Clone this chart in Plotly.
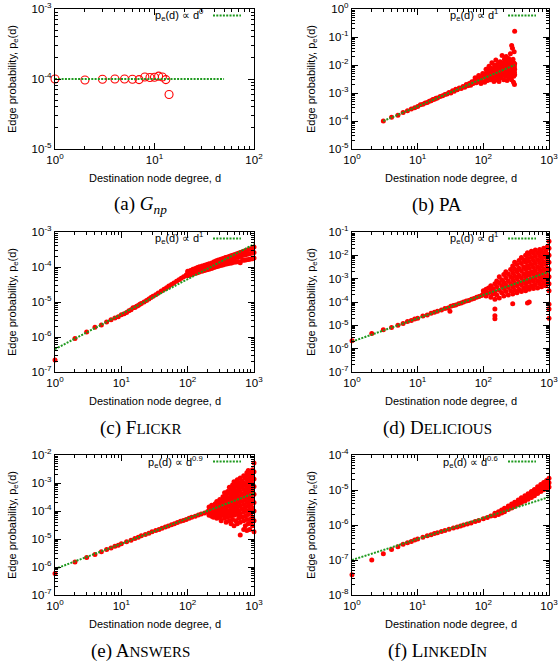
import plotly.graph_objects as go
from plotly.subplots import make_subplots

W, H = 559, 665

# ---------------- data ----------------
# (a) G_np
a_deg = [1, 2, 3, 4, 5, 6, 7, 8, 9, 10, 11, 12, 13, 14]
a_prob = [1.0e-4, 0.97e-4, 0.99e-4, 1.0e-4, 1.0e-4, 0.99e-4, 0.98e-4, 1.07e-4,
          1.05e-4, 1.06e-4, 1.1e-4, 1.07e-4, 0.98e-4, 0.6e-4]
a_fit_deg = [1, 50]
a_fit_prob = [1e-4, 1e-4]

# (b) PA
b_deg = [3, 4, 5, 6, 7, 8, 9, 10, 11, 12, 13, 14, 15, 16, 17, 18, 19, 20,
         22, 24, 26, 28, 30, 32, 34, 36, 38, 40,
         43, 46, 49, 52, 55, 58, 61, 64, 67, 70,
         74, 78, 82, 86, 90, 95, 100, 75, 85, 92, 98]
b_prob = [1.0e-4, 1.35e-4, 1.6e-4, 2.0e-4, 2.3e-4, 2.7e-4, 3.0e-4, 3.3e-4, 3.8e-4, 4.0e-4,
          4.4e-4, 4.6e-4, 5.1e-4, 5.3e-4, 5.8e-4, 6.0e-4, 6.5e-4, 6.6e-4,
          7.5e-4, 8.0e-4, 8.9e-4, 9.2e-4, 1.05e-3, 1.0e-3, 1.2e-3, 1.15e-3, 1.35e-3, 1.3e-3,
          1.5e-3, 1.45e-3, 1.7e-3, 1.6e-3, 2.0e-3, 1.8e-3, 2.2e-3, 1.9e-3, 2.5e-3, 2.2e-3,
          2.8e-3, 2.3e-3, 3.1e-3, 2.6e-3, 3.4e-3, 2.7e-3, 3.9e-3, 3.5e-3, 4.2e-3, 2.2e-3, 5.0e-3]
b_cloud = {
    105: [2.4e-3, 4.0e-3], 108: [5.0e-3], 110: [3.2e-3, 7.0e-3], 112: [4.2e-3], 115: [6.5e-3, 2.8e-3],
    118: [2.9e-3, 5.0e-3], 120: [3.8e-3], 122: [5.5e-3, 9.0e-3], 125: [4.5e-3], 128: [8.0e-3, 3.0e-3],
    130: [3.3e-3, 5.8e-3], 133: [6.0e-3], 135: [1.2e-2, 4.2e-3], 138: [4.8e-3], 140: [3.6e-3, 7.0e-3],
    143: [7.5e-3], 145: [5.2e-3, 2.6e-3], 148: [1.0e-2], 150: [4.0e-3, 6.5e-3], 153: [6.8e-3],
    155: [1.5e-2, 3.4e-3], 158: [5.6e-3], 160: [3.0e-3, 8.0e-3], 163: [8.5e-3], 165: [4.4e-3, 6.2e-3],
    168: [1.1e-2], 170: [6.2e-3, 3.8e-3], 173: [2.6e-3], 175: [9.0e-3, 5.2e-3], 178: [5.0e-3],
    180: [1.3e-2, 7.5e-3], 183: [7.0e-3], 185: [3.5e-3, 5.5e-3], 188: [1.05e-2], 190: [5.8e-3, 8.5e-3],
    193: [2.2e-2], 195: [8.0e-3, 4.6e-3], 198: [4.2e-3], 200: [1.2e-2, 6.8e-3], 203: [6.5e-3],
    205: [3.0e-3, 1.0e-2], 208: [9.5e-3], 210: [1.6e-2, 5.0e-3], 213: [5.3e-3], 215: [7.8e-3, 1.3e-2],
    218: [1.1e-2], 220: [4.0e-3, 7.0e-3], 223: [2.0e-2], 225: [6.0e-3, 9.5e-3], 228: [9.0e-3],
    230: [2.8e-3, 5.5e-3], 233: [1.3e-2], 235: [7.2e-3, 4.2e-3], 238: [5.0e-3], 240: [1.0e-2, 6.5e-3],
    243: [1.7e-2], 245: [3.6e-3, 8.8e-3], 248: [8.2e-3], 250: [6.0e-3, 1.15e-2], 253: [1.2e-2],
    255: [4.5e-3, 7.2e-3], 258: [2.5e-2], 260: [9.0e-3, 5.2e-3], 263: [6.8e-3], 265: [1.4e-2, 3.8e-3],
    268: [3.0e-3], 270: [5.0e-2, 8.0e-3], 272: [1.1e-2], 275: [7.5e-3, 5.0e-3], 278: [4.0e-2],
    280: [5.5e-3, 1.0e-2], 283: [1.6e-2], 285: [9.0e-3, 6.0e-3], 288: [2.4e-3], 290: [1.2e-2, 4.0e-3],
    292: [6.5e-3], 295: [3.0e-2, 9.5e-3], 297: [8.5e-3], 298: [2.0e-3, 5.5e-3],
    300: [1.6e-1, 4.5e-3, 1.1e-2, 7.0e-3],
}
b_fit_deg = [3, 300]
b_fit_prob = [1e-4, 1e-2]

# (c) FLICKR
c_deg = [1, 2, 3, 4, 5, 6, 7, 8, 9, 10, 11, 12, 13, 14, 15, 16, 17, 18, 19, 20,
         22, 24, 26, 28, 30, 33, 36, 40, 44, 48, 52, 57, 62, 68, 74, 80, 87, 95]
c_prob = [2.2e-7, 9.0e-7, 1.4e-6, 1.9e-6, 2.2e-6, 2.7e-6, 3.1e-6, 3.5e-6, 3.8e-6, 4.3e-6,
          4.6e-6, 5.0e-6, 5.6e-6, 6.0e-6, 6.8e-6, 7.0e-6, 7.5e-6, 8.0e-6, 8.6e-6, 9.0e-6,
          1.0e-5, 1.1e-5, 1.22e-5, 1.35e-5, 1.45e-5, 1.62e-5, 1.8e-5, 2.05e-5, 2.3e-5, 2.55e-5,
          2.85e-5, 3.15e-5, 3.5e-5, 3.9e-5, 4.3e-5, 4.8e-5, 5.3e-5, 5.9e-5]
c_band_deg = [100, 110, 120, 130, 140, 150, 165, 180, 195, 210, 230, 250, 270, 290, 315, 340,
              370, 400, 430, 460, 500, 540, 580, 620, 670, 720, 770, 830, 890, 950, 1000]
c_band_mid = [6.5e-5, 6.9e-5, 7.4e-5, 7.8e-5, 8.2e-5, 8.6e-5, 9.1e-5, 9.6e-5, 1.0e-4, 1.04e-4,
              1.1e-4, 1.18e-4, 1.25e-4, 1.31e-4, 1.38e-4, 1.44e-4, 1.52e-4, 1.58e-4, 1.64e-4,
              1.71e-4, 1.8e-4, 1.87e-4, 1.94e-4, 2.01e-4, 2.12e-4, 2.2e-4, 2.28e-4, 2.37e-4,
              2.45e-4, 2.52e-4, 2.6e-4]
c_band_hi = [7.5e-5, 8.0e-5, 8.6e-5, 9.1e-5, 9.6e-5, 1.01e-4, 1.07e-4, 1.13e-4, 1.18e-4, 1.23e-4,
             1.31e-4, 1.41e-4, 1.5e-4, 1.58e-4, 1.67e-4, 1.75e-4, 1.86e-4, 1.94e-4, 2.03e-4,
             2.13e-4, 2.25e-4, 2.36e-4, 2.47e-4, 2.58e-4, 2.74e-4, 2.88e-4, 3.0e-4, 3.15e-4,
             3.3e-4, 3.45e-4, 3.7e-4]
c_band_lo = [5.6e-5, 5.9e-5, 6.3e-5, 6.6e-5, 6.9e-5, 7.2e-5, 7.6e-5, 8.0e-5, 8.3e-5, 8.6e-5,
             9.0e-5, 9.6e-5, 1.01e-4, 1.05e-4, 1.1e-4, 1.14e-4, 1.19e-4, 1.23e-4, 1.27e-4,
             1.31e-4, 1.36e-4, 1.4e-4, 1.44e-4, 1.32e-4, 1.55e-4, 1.57e-4, 1.6e-4, 1.64e-4,
             1.68e-4, 1.72e-4, 1.8e-4]
c_fit_deg = [1, 1000]
c_fit_prob = [4.5e-7, 4.5e-4]

# (d) DELICIOUS
d_deg = [1, 2, 3, 4, 5, 6, 7, 8, 9, 10, 12, 14, 16, 18, 20, 23, 26, 29, 31, 32, 35, 38,
         42, 46, 50, 55, 60, 66, 72, 79, 86, 94]
d_prob = [2.2e-6, 4.5e-6, 6.5e-6, 8.0e-6, 1.0e-5, 1.2e-5, 1.45e-5, 1.6e-5, 1.85e-5, 2.0e-5,
          2.5e-5, 2.8e-5, 3.3e-5, 3.6e-5, 4.0e-5, 4.5e-5, 5.3e-5, 5.6e-5, 4.0e-5, 6.5e-5,
          7.0e-5, 7.5e-5, 8.5e-5, 9.0e-5, 1.0e-4, 1.1e-4, 1.15e-4, 1.3e-4, 1.4e-4, 1.6e-4,
          1.7e-4, 1.9e-4]
d_cloud = {
    100: [2.2e-4, 3.0e-4], 110: [1.8e-4, 2.6e-4, 3.5e-4], 120: [2.4e-4, 4.0e-4],
    130: [1.6e-4, 3.0e-4, 5.0e-4], 140: [2.2e-4, 3.8e-4],
    150: [1.3e-4, 2.8e-4, 6.0e-4, 5.0e-5, 2.6e-5, 1.9e-5],
    160: [2.0e-4, 4.5e-4, 8.0e-4], 175: [1.5e-4, 3.2e-4, 6.5e-4, 1.2e-3],
    190: [2.5e-4, 5.0e-4, 9.0e-4], 205: [1.8e-4, 3.8e-4, 7.0e-4, 1.5e-3],
    220: [2.8e-4, 5.5e-4, 1.1e-3, 2.0e-3], 240: [2.0e-4, 4.2e-4, 8.0e-4, 1.6e-3],
    260: [3.0e-4, 6.0e-4, 1.2e-3, 2.5e-3], 280: [2.2e-4, 8.5e-5, 4.5e-4, 9.0e-4, 1.8e-3, 3.5e-3],
    300: [3.2e-4, 6.5e-4, 1.3e-3, 2.6e-3, 5.0e-3], 325: [2.5e-4, 5.0e-4, 1.0e-3, 2.0e-3, 4.0e-3],
    350: [3.5e-4, 7.0e-4, 1.4e-3, 2.8e-3, 6.0e-3],
    380: [2.8e-4, 5.5e-4, 1.1e-3, 2.2e-3, 4.5e-3, 8.0e-3],
    410: [4.0e-4, 8.0e-4, 1.6e-3, 3.2e-3, 6.5e-3],
    440: [3.0e-4, 6.0e-4, 1.2e-3, 2.5e-3, 5.0e-3, 1.0e-2],
    470: [9.0e-5, 4.5e-4, 9.0e-4, 1.8e-3, 3.6e-3, 7.5e-3, 1.3e-2],
    500: [1.0e-4, 3.5e-4, 7.0e-4, 1.4e-3, 2.8e-3, 5.5e-3, 1.1e-2],
    540: [5.0e-4, 1.0e-3, 2.0e-3, 4.0e-3, 8.0e-3, 1.5e-2],
    580: [3.8e-4, 7.5e-4, 1.5e-3, 3.0e-3, 6.0e-3, 1.2e-2],
    620: [5.5e-4, 1.1e-3, 2.2e-3, 4.5e-3, 9.0e-3, 1.7e-2],
    670: [4.0e-4, 8.0e-4, 1.6e-3, 3.2e-3, 6.5e-3, 1.3e-2],
    720: [6.0e-4, 1.2e-3, 2.4e-3, 4.8e-3, 9.5e-3, 1.8e-2],
    770: [4.5e-4, 9.0e-4, 1.8e-3, 3.6e-3, 7.0e-3, 1.4e-2],
    830: [6.5e-4, 1.3e-3, 2.6e-3, 5.2e-3, 1.0e-2, 2.0e-2],
    890: [5.0e-4, 1.0e-3, 2.0e-3, 4.0e-3, 8.0e-3, 1.5e-2],
    950: [7.0e-4, 1.4e-3, 2.8e-3, 5.5e-3, 1.1e-2, 2.4e-2],
    1000: [2.0e-5, 5.0e-5, 8.0e-5, 3.0e-4, 6.0e-4, 1.2e-3, 2.5e-3, 5.0e-3, 1.0e-2, 2.0e-2, 4.0e-2],
}
d_fit_deg = [1, 1000]
d_fit_prob = [2e-6, 2e-3]

# (e) ANSWERS
e_deg = [1, 2, 3, 4, 5, 6, 7, 8, 9, 10, 12, 14, 16, 18, 20, 23, 26, 29, 33, 37, 41, 46, 51,
         57, 63, 70, 78, 86, 95, 105, 115, 130, 145, 160, 180, 200]
e_prob = [5.8e-7, 1.5e-6, 2.2e-6, 2.8e-6, 3.5e-6, 4.2e-6, 4.8e-6, 5.5e-6, 6.0e-6, 6.8e-6,
          8.0e-6, 9.0e-6, 1.05e-5, 1.15e-5, 1.3e-5, 1.45e-5, 1.6e-5, 1.8e-5, 2.0e-5, 2.2e-5,
          2.4e-5, 2.7e-5, 2.9e-5, 3.2e-5, 3.5e-5, 3.9e-5, 4.3e-5, 4.6e-5, 5.0e-5, 5.5e-5,
          6.0e-5, 6.5e-5, 7.2e-5, 7.8e-5, 8.5e-5, 9.5e-5]
e_cloud = {
    210: [7e-5, 1.0e-4, 1.4e-4], 220: [8.5e-5, 1.2e-4], 230: [6.5e-5, 1.05e-4, 1.6e-4],
    245: [9e-5, 1.3e-4, 6e-5], 260: [7.5e-5, 1.15e-4, 1.8e-4], 275: [5.5e-5, 9.5e-5, 1.4e-4, 2.2e-4],
    290: [8e-5, 1.25e-4, 2.0e-4], 305: [6e-5, 1.0e-4, 1.6e-4, 2.6e-4],
    320: [4.5e-5, 8.5e-5, 1.4e-4, 2.3e-4], 340: [7e-5, 1.15e-4, 1.9e-4, 3.2e-4],
    360: [5.5e-5, 9.5e-5, 1.6e-4, 2.7e-4, 4.5e-4], 380: [4e-5, 7.5e-5, 1.3e-4, 2.2e-4, 3.8e-4],
    400: [6e-5, 1.05e-4, 1.8e-4, 3.0e-4, 5.0e-4], 425: [4.5e-5, 8.5e-5, 1.5e-4, 2.5e-4, 4.2e-4, 7e-4],
    450: [3.5e-5, 6.5e-5, 1.15e-4, 2.0e-4, 3.4e-4, 5.8e-4],
    475: [5e-5, 9e-5, 1.6e-4, 2.8e-4, 4.8e-4, 8.5e-4],
    500: [3e-5, 7e-5, 1.25e-4, 2.2e-4, 3.8e-4, 6.5e-4, 1.1e-3],
    530: [4.5e-5, 1.0e-4, 1.8e-4, 3.1e-4, 5.3e-4, 9e-4],
    560: [3.5e-5, 7.5e-5, 1.4e-4, 2.5e-4, 4.4e-4, 7.5e-4, 1.3e-3],
    590: [5.5e-5, 1.05e-4, 2.0e-4, 3.5e-4, 6.0e-4, 1.05e-3],
    620: [1.4e-5, 4e-5, 8e-5, 1.5e-4, 2.8e-4, 5.0e-4, 8.5e-4, 1.5e-3],
    660: [6e-5, 1.15e-4, 2.2e-4, 4.0e-4, 7.0e-4, 1.2e-3],
    700: [2.2e-5, 4.5e-5, 9e-5, 1.7e-4, 3.2e-4, 5.8e-4, 1.0e-3, 1.8e-3],
    740: [3e-5, 6.5e-5, 1.3e-4, 2.5e-4, 4.6e-4, 8.5e-4, 1.5e-3],
    780: [2e-5, 5e-5, 1.0e-4, 2.0e-4, 3.8e-4, 7e-4, 1.3e-3, 2.3e-3],
    820: [3.5e-5, 7.5e-5, 1.5e-4, 3.0e-4, 5.5e-4, 1.0e-3, 1.9e-3, 2.8e-3],
    860: [2.2e-5, 5e-5, 1.1e-4, 2.3e-4, 4.3e-4, 8e-4, 1.5e-3, 2.5e-3],
    900: [4e-5, 8.5e-5, 1.7e-4, 3.3e-4, 6.2e-4, 1.15e-3, 2.0e-3],
    950: [3e-5, 6e-5, 1.3e-4, 2.6e-4, 5.0e-4, 9.5e-4, 1.7e-3, 3e-3],
    1000: [1.8e-5, 4.5e-5, 1.0e-4, 2.0e-4, 4.0e-4, 7.5e-4, 1.4e-3, 2.5e-3, 5.2e-3],
}
e_fit_deg = [1, 1000]
e_fit_prob = [8.5e-7, 4.3e-4]

# (f) LINKEDIN
f_deg = [1, 2, 3, 4, 5, 6, 7, 8, 9, 10, 12, 14, 16, 18, 20, 23, 26, 30, 35, 40, 45, 50,
         57, 65, 75, 85, 100, 115, 130]
f_prob = [3.8e-8, 1.0e-7, 1.5e-7, 2.0e-7, 2.4e-7, 2.8e-7, 3.1e-7, 3.4e-7, 3.7e-7, 4.0e-7,
          4.5e-7, 4.9e-7, 5.3e-7, 5.7e-7, 6.0e-7, 6.5e-7, 7.0e-7, 7.5e-7, 8.2e-7, 8.8e-7,
          9.4e-7, 1.0e-6, 1.07e-6, 1.15e-6, 1.25e-6, 1.35e-6, 1.5e-6, 1.65e-6, 1.8e-6]
f_band_deg = [150, 170, 190, 210, 240, 270, 300, 340, 380, 430, 480, 540, 600, 670, 750, 830,
              920, 1000]
f_band_mid = [2.0e-6, 2.2e-6, 2.45e-6, 2.7e-6, 3.1e-6, 3.5e-6, 3.9e-6, 4.5e-6, 5.1e-6, 5.8e-6,
              6.5e-6, 7.5e-6, 8.5e-6, 1.0e-5, 1.15e-5, 1.3e-5, 1.45e-5, 1.6e-5]
f_band_hi = [2.15e-6, 2.4e-6, 2.7e-6, 3.0e-6, 3.5e-6, 4.0e-6, 4.5e-6, 5.2e-6, 6.0e-6, 6.9e-6,
             7.8e-6, 9.1e-6, 1.04e-5, 1.24e-5, 1.44e-5, 1.65e-5, 1.88e-5, 2.15e-5]
f_band_lo = [1.85e-6, 2.0e-6, 2.2e-6, 2.4e-6, 2.75e-6, 3.05e-6, 3.35e-6, 3.85e-6, 4.3e-6,
             4.85e-6, 5.4e-6, 6.1e-6, 6.9e-6, 8.0e-6, 9.1e-6, 1.02e-5, 1.12e-5, 1.22e-5]
f_fit_deg = [1, 1000]
f_fit_prob = [1e-7, 6.3e-6]

# tick labels
x_ticks_a = [1, 10, 100]
x_labels_a = ["10<sup>0</sup>", "10<sup>1</sup>", "10<sup>2</sup>"]
x_ticks = [1, 10, 100, 1000]
x_labels = ["10<sup>0</sup>", "10<sup>1</sup>", "10<sup>2</sup>", "10<sup>3</sup>"]
y_ticks_a = [1e-5, 1e-4, 1e-3]
y_labels_a = ["10<sup>-5</sup>", "10<sup>-4</sup>", "10<sup>-3</sup>"]
y_ticks_b = [1e-5, 1e-4, 1e-3, 1e-2, 1e-1, 1e0]
y_labels_b = ["10<sup>-5</sup>", "10<sup>-4</sup>", "10<sup>-3</sup>", "10<sup>-2</sup>",
              "10<sup>-1</sup>", "10<sup>0</sup>"]
y_ticks_c = [1e-7, 1e-6, 1e-5, 1e-4, 1e-3]
y_labels_c = ["10<sup>-7</sup>", "10<sup>-6</sup>", "10<sup>-5</sup>", "10<sup>-4</sup>",
              "10<sup>-3</sup>"]
y_ticks_d = [1e-7, 1e-6, 1e-5, 1e-4, 1e-3, 1e-2, 1e-1]
y_labels_d = ["10<sup>-7</sup>", "10<sup>-6</sup>", "10<sup>-5</sup>", "10<sup>-4</sup>",
              "10<sup>-3</sup>", "10<sup>-2</sup>", "10<sup>-1</sup>"]
y_ticks_e = [1e-7, 1e-6, 1e-5, 1e-4, 1e-3, 1e-2]
y_labels_e = ["10<sup>-7</sup>", "10<sup>-6</sup>", "10<sup>-5</sup>", "10<sup>-4</sup>",
              "10<sup>-3</sup>", "10<sup>-2</sup>"]
y_ticks_f = [1e-8, 1e-7, 1e-6, 1e-5, 1e-4]
y_labels_f = ["10<sup>-8</sup>", "10<sup>-7</sup>", "10<sup>-6</sup>", "10<sup>-5</sup>",
              "10<sup>-4</sup>"]

legend_labels = ["p<sub>e</sub>(d) \u221d d<sup>0</sup>", "p<sub>e</sub>(d) \u221d d<sup>1</sup>",
                 "p<sub>e</sub>(d) \u221d d<sup>1</sup>", "p<sub>e</sub>(d) \u221d d<sup>1</sup>",
                 "p<sub>e</sub>(d) \u221d d<sup>0.9</sup>", "p<sub>e</sub>(d) \u221d d<sup>0.6</sup>"]
SC = "<span style='font-size:15px'>%s</span>"
captions = ["(a) <i>G</i><sub><i>np</i></sub>",
            "(b) PA",
            "(c) F" + SC % "LICKR",
            "(d) D" + SC % "ELICIOUS",
            "(e) A" + SC % "NSWERS",
            "(f) L" + SC % "INKED" + "I" + SC % "N"]
x_title = "Destination node degree, d"
y_title = "Edge probability, p<sub>e</sub>(d)"

# ---------------- figure ----------------
RED = "#ff0000"
GREEN = "#1f9a1f"
SANS = "Liberation Sans, Arial, sans-serif"
SERIF = "Liberation Serif, Times New Roman, serif"


def flatten(cloud):
    xs, ys = [], []
    for k, vals in cloud.items():
        for v in vals:
            xs.append(k)
            ys.append(v)
    return xs, ys


fig = make_subplots(rows=3, cols=2)

col_px = {1: (55, 254), 2: (352, 549)}
row_px = {1: (9, 149), 2: (232, 372), 3: (455, 595)}


def fx(px):
    return px / W


def fy(py):
    return 1 - py / H


dot_style = dict(color=RED, size=5, line=dict(width=0))


def add_dots(xs, ys, r, c):
    fig.add_trace(go.Scatter(x=xs, y=ys, mode="markers", marker=dot_style,
                             cliponaxis=False, showlegend=False, hoverinfo="skip"), row=r, col=c)


def add_fit(xs, ys, r, c):
    fig.add_trace(go.Scatter(x=xs, y=ys, mode="lines",
                             line=dict(color=GREEN, width=2, dash="2px,1.3px"),
                             showlegend=False, hoverinfo="skip"), row=r, col=c)


# (a)
fig.add_trace(go.Scatter(x=a_deg, y=a_prob, mode="markers",
                         marker=dict(symbol="circle-open", color=RED, size=8, line=dict(width=1.1, color=RED)),
                         cliponaxis=False, showlegend=False, hoverinfo="skip"), row=1, col=1)
add_fit(a_fit_deg, a_fit_prob, 1, 1)
# (b)
bx, by = flatten(b_cloud)
add_dots(b_deg + bx, b_prob + by, 1, 2)
add_fit(b_fit_deg, b_fit_prob, 1, 2)
# (c)
add_dots(c_deg, c_prob, 2, 1)
add_dots(c_band_deg * 3, c_band_lo + c_band_mid + c_band_hi, 2, 1)
add_fit(c_fit_deg, c_fit_prob, 2, 1)
# (d)
dx, dy = flatten(d_cloud)
add_dots(d_deg + dx, d_prob + dy, 2, 2)
add_fit(d_fit_deg, d_fit_prob, 2, 2)
# (e)
ex, ey = flatten(e_cloud)
add_dots(e_deg + ex, e_prob + ey, 3, 1)
add_fit(e_fit_deg, e_fit_prob, 3, 1)
# (f)
add_dots(f_deg, f_prob, 3, 2)
add_dots(f_band_deg * 3, f_band_lo + f_band_mid + f_band_hi, 3, 2)
add_fit(f_fit_deg, f_fit_prob, 3, 2)

panels = [
    (1, 1, [0, 2], [-5, -3], x_ticks_a, x_labels_a, y_ticks_a, y_labels_a),
    (1, 2, [0, 3], [-5, 0], x_ticks, x_labels, y_ticks_b, y_labels_b),
    (2, 1, [0, 3], [-7, -3], x_ticks, x_labels, y_ticks_c, y_labels_c),
    (2, 2, [0, 3], [-7, -1], x_ticks, x_labels, y_ticks_d, y_labels_d),
    (3, 1, [0, 3], [-7, -2], x_ticks, x_labels, y_ticks_e, y_labels_e),
    (3, 2, [0, 3], [-8, -4], x_ticks, x_labels, y_ticks_f, y_labels_f),
]

tickfont = dict(family=SANS, size=11.5, color="black")
annotations = []
shapes = []
for i, (r, c, xr, yr, xt, xl, yt, yl) in enumerate(panels):
    x0, x1 = col_px[c]
    y0, y1 = row_px[r]
    common = dict(type="log", ticks="inside", ticklen=6, tickwidth=1, tickcolor="black",
                  showline=True, linecolor="black", linewidth=1.3, mirror="allticks",
                  showgrid=False, zeroline=False, tickfont=tickfont, automargin=False,
                  minor=dict(ticks="inside", ticklen=3, tickwidth=1, tickcolor="black",
                             dtick="D1", showgrid=False))
    fig.update_xaxes(range=xr, tickvals=xt, ticktext=xl, domain=[fx(x0), fx(x1)],
                     row=r, col=c, **common)
    fig.update_yaxes(range=yr, tickvals=yt, ticktext=yl, domain=[fy(y1), fy(y0)],
                     row=r, col=c, **common)
    # legend key
    ly = y0 + 6.5
    annotations.append(dict(x=fx(x1 - 49), y=fy(ly), xref="paper", yref="paper",
                            text=legend_labels[i], showarrow=False, xanchor="right",
                            yanchor="middle", font=dict(family=SANS, size=11, color="black")))
    shapes.append(dict(type="line", xref="paper", yref="paper", x0=fx(x1 - 41), x1=fx(x1 - 13),
                       y0=fy(ly), y1=fy(ly), line=dict(color=GREEN, width=2, dash="2px,1.3px")))
    # axis titles
    annotations.append(dict(x=fx((x0 + x1) / 2), y=fy(y1 + 29), xref="paper", yref="paper",
                            text=x_title, showarrow=False, xanchor="center", yanchor="middle",
                            font=dict(family=SANS, size=11, color="black")))
    annotations.append(dict(x=fx(13 if c == 1 else 312), y=fy((y0 + y1) / 2), xref="paper",
                            yref="paper", text=y_title, showarrow=False, textangle=-90,
                            xanchor="center", yanchor="middle",
                            font=dict(family=SANS, size=11, color="black")))
    # caption
    annotations.append(dict(x=fx(140 if c == 1 else 437), y=fy(y1 + 56), xref="paper",
                            yref="paper", text=captions[i], showarrow=False, xanchor="center",
                            yanchor="middle", font=dict(family=SERIF, size=19, color="black")))

fig.update_layout(width=W, height=H, margin=dict(l=0, r=0, t=0, b=0),
                  paper_bgcolor="white", plot_bgcolor="white",
                  annotations=annotations, shapes=shapes, showlegend=False)

fig.write_html("out.html", config={"displayModeBar": False},
               post_script="document.body.style.margin='0';document.body.style.overflow='hidden';")
